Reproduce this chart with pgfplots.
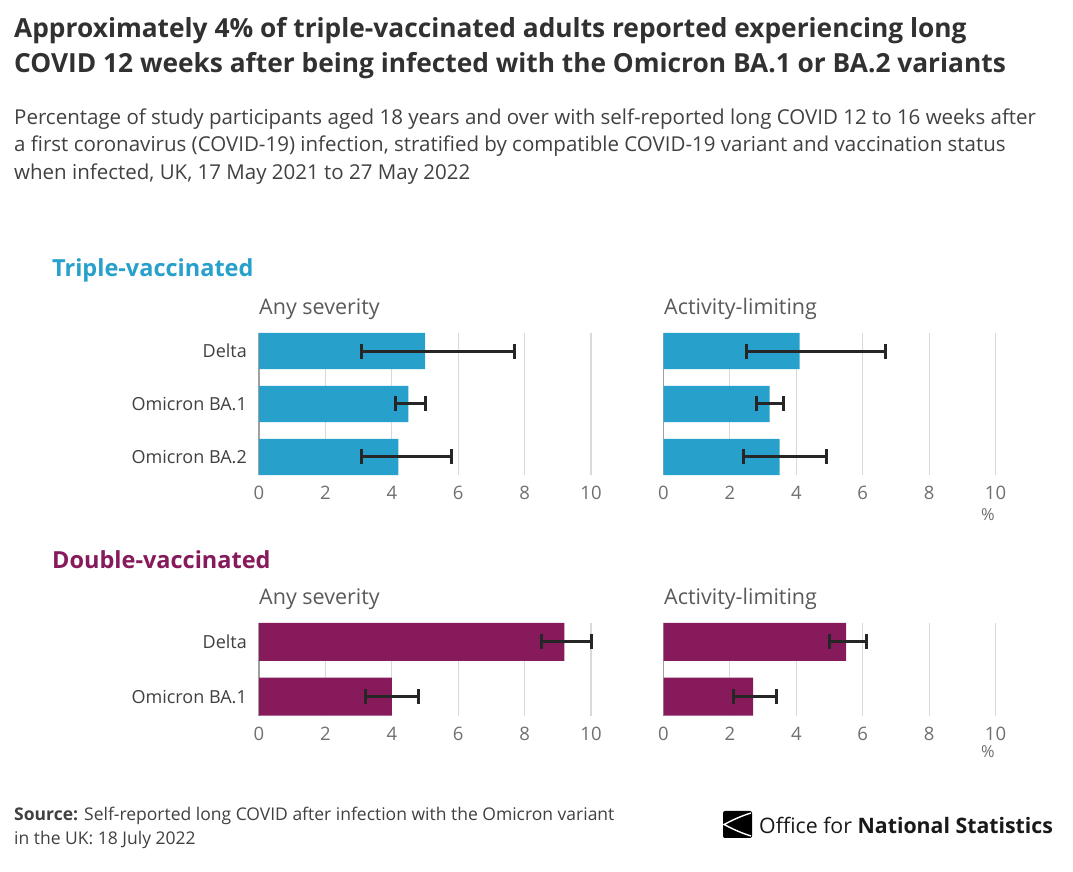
\documentclass[border=0pt]{standalone}
\usepackage{pgfplots}
\pgfplotsset{compat=1.18}
\usepackage{pgfplotstable}
\usepackage{fontspec}
\setmainfont{Open Sans}

\definecolor{onsblue}{HTML}{27A0CC}
\definecolor{onsmaroon}{HTML}{871A5B}
\definecolor{titlegrey}{HTML}{323132}
\definecolor{subgrey}{HTML}{414042}
\definecolor{tickgrey}{HTML}{707070}
\definecolor{labgrey}{HTML}{404040}
\definecolor{gridgrey}{HTML}{D9D9D9}
\definecolor{zerogrey}{HTML}{A0A0A0}
\definecolor{errblack}{HTML}{262626}

% value, lower and upper bound of the 95% interval
\pgfplotstableread{
i v lo hi
0 5.0 3.1 7.7
1 4.5 4.1 5.0
2 4.2 3.1 5.8
}\tripleany
\pgfplotstableread{
i v lo hi
0 4.1 2.5 6.7
1 3.2 2.8 3.6
2 3.5 2.4 4.9
}\triplelim
\pgfplotstableread{
i v lo hi
0 9.2 8.5 10.0
1 4.0 3.2 4.8
}\doubleany
\pgfplotstableread{
i v lo hi
0 5.5 5.0 6.1
1 2.7 2.1 3.4
}\doublelim

\pgfplotsset{
  panel/.style={
    scale only axis, width=332pt,
    xmin=0, xmax=10, xtick={0,2,...,10},
    y dir=reverse, enlargelimits=false, clip=false,
    axis line style={draw=none}, major tick length=0pt,
    xmajorgrids, major grid style={color=gridgrey, line width=1.1pt},
    extra x ticks={0}, extra x tick labels={},
    extra x tick style={major grid style={color=zerogrey, line width=1.1pt}},
    /pgf/number format/assume math mode=true,
    xticklabel style={font=\fontsize{18.5}{18.5}\selectfont, text=tickgrey,
      anchor=north, inner sep=0pt, yshift=-11pt},
    yticklabel style={font=\fontsize{18}{18}\selectfont, text=labgrey,
      anchor=east, inner sep=0pt, xshift=-12pt},
  },
  witherr/.style={
    error bars/.cd, x dir=both, x explicit,
    error bar style={color=errblack, line width=3pt},
    error mark options={color=errblack, line width=3pt, mark size=7.5pt, rotate=90},
  },
}

\newcommand{\bars}[3]{%
  \addplot[xbar, fill=#1, draw=none, bar width=#2, witherr]
    table[x=v, y=i,
      x error plus expr=\thisrow{hi}-\thisrow{v},
      x error minus expr=\thisrow{v}-\thisrow{lo}] {#3};}

\begin{document}
\begin{tikzpicture}
\path[fill=white, use as bounding box] (0pt,0pt) rectangle (1073pt,872pt);

% titles
\node[anchor=west, inner sep=0pt, text=titlegrey, font=\fontsize{26.3}{26.3}\selectfont\bfseries]
  at (14pt,841pt) {Approximately 4\% of triple-vaccinated adults reported experiencing long};
\node[anchor=west, inner sep=0pt, text=titlegrey, font=\fontsize{26.3}{26.3}\selectfont\bfseries]
  at (14pt,806pt) {COVID 12 weeks after being infected with the Omicron BA.1 or BA.2 variants};
\node[anchor=west, inner sep=0pt, text=subgrey, font=\fontsize{20.5}{20.5}\selectfont]
  at (14pt,753pt) {Percentage of study participants aged 18 years and over with self-reported long COVID 12 to 16 weeks after};
\node[anchor=west, inner sep=0pt, text=subgrey, font=\fontsize{20.5}{20.5}\selectfont]
  at (14pt,726pt) {a first coronavirus (COVID-19) infection, stratified by compatible COVID-19 variant and vaccination status};
\node[anchor=west, inner sep=0pt, text=subgrey, font=\fontsize{20.5}{20.5}\selectfont]
  at (14pt,698pt) {when infected, UK, 17 May 2021 to 27 May 2022};

% section and panel headings
\node[anchor=west, inner sep=0pt, text=onsblue, font=\fontsize{23.5}{23.5}\selectfont\bfseries]
  at (52pt,602pt) {Triple-vaccinated};
\node[anchor=west, inner sep=0pt, text=onsmaroon, font=\fontsize{23.5}{23.5}\selectfont\bfseries]
  at (52pt,312pt) {Double-vaccinated};
\foreach \yy in {563pt,273pt} {
  \node[anchor=west, inner sep=0pt, text=tickgrey!80!black, font=\fontsize{21.5}{21.5}\selectfont]
    at (259pt,\yy) {Any severity};
  \node[anchor=west, inner sep=0pt, text=tickgrey!80!black, font=\fontsize{21.5}{21.5}\selectfont]
    at (664pt,\yy) {Activity-limiting};
}

% triple-vaccinated
\begin{axis}[panel, at={(259pt,397pt)}, anchor=south west, height=142pt,
  ymin=-0.34, ymax=2.34, ytick={0,1,2},
  yticklabels={Delta, Omicron BA.1, Omicron BA.2}]
  \bars{onsblue}{0.685}{\tripleany}
\end{axis}
\begin{axis}[panel, at={(663.5pt,397pt)}, anchor=south west, height=142pt,
  ymin=-0.34, ymax=2.34, ytick=\empty]
  \bars{onsblue}{0.685}{\triplelim}
\end{axis}

% double-vaccinated
\begin{axis}[panel, at={(259pt,156.3pt)}, anchor=south west, height=93pt,
  ymin=-0.35, ymax=1.35, ytick={0,1},
  yticklabels={Delta, Omicron BA.1}]
  \bars{onsmaroon}{0.695}{\doubleany}
\end{axis}
\begin{axis}[panel, at={(663.5pt,156.3pt)}, anchor=south west, height=93pt,
  ymin=-0.35, ymax=1.35, ytick=\empty]
  \bars{onsmaroon}{0.695}{\doublelim}
\end{axis}

\node[text=tickgrey, inner sep=0pt, font=\fontsize{16.5}{16.5}\selectfont] at (988pt,357pt) {\%};
\node[text=tickgrey, inner sep=0pt, font=\fontsize{16.5}{16.5}\selectfont] at (988pt,120pt) {\%};

% source
\node[anchor=west, inner sep=0pt, text=subgrey, font=\fontsize{17.5}{17.5}\selectfont]
  at (14pt,56pt) {\textbf{Source:} Self-reported long COVID after infection with the Omicron variant};
\node[anchor=west, inner sep=0pt, text=subgrey, font=\fontsize{17.5}{17.5}\selectfont]
  at (14pt,32pt) {in the UK: 18 July 2022};

% logo
\fill[black, rounded corners=2pt] (723pt,34pt) rectangle (752pt,61pt);
\draw[white, line width=1.4pt] (751pt,59pt) .. controls (738pt,55pt) and (729pt,50pt) .. (724pt,47.5pt)
  .. controls (729pt,45pt) and (738pt,40pt) .. (751pt,36pt);
\node[anchor=west, inner sep=0pt, text=black!90, font=\fontsize{21.3}{21.3}\selectfont]
  at (759pt,47pt) {Office for \textbf{National Statistics}};
\end{tikzpicture}
\end{document}
